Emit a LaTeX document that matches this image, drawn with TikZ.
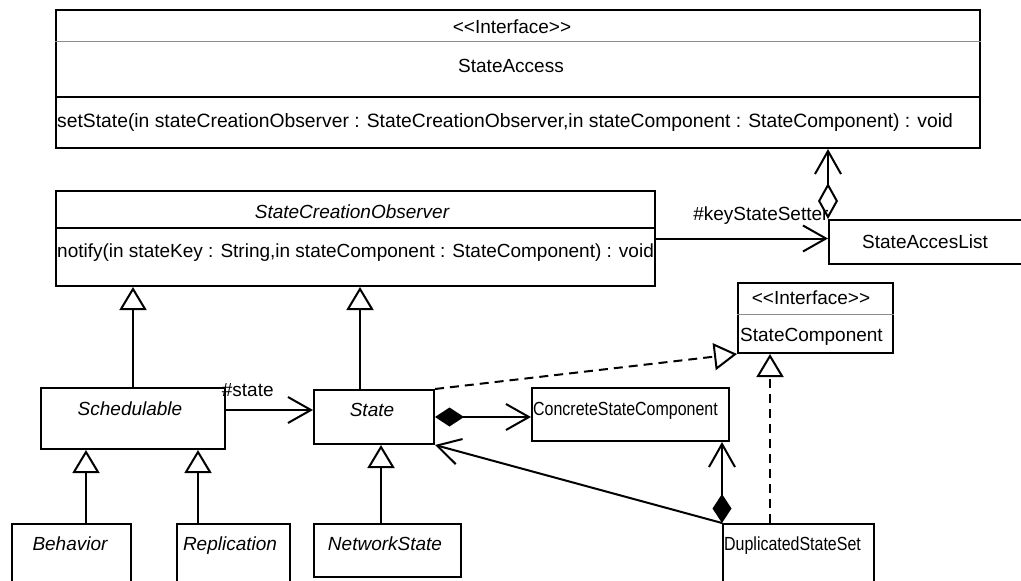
\documentclass[tikz,border=0pt]{standalone}
\usepackage{fontspec}
\setmainfont{Liberation Sans}
\usetikzlibrary{arrows.meta}
\tikzset{cls/.style={draw,line width=2pt,rectangle,anchor=north west,inner sep=0pt},
    txt/.style={inner sep=0pt,text height=14pt,text depth=4pt,font=\fontsize{19}{22}\selectfont},
    itxt/.style={txt,font=\fontsize{19}{22}\selectfont\itshape},
    thinsep/.style={draw=black!45,line width=1pt},
    boldsep/.style={draw,line width=2pt},
    gen/.style={line width=2pt,-{Triangle[open,length=23pt,width=27pt]}},
    realize/.style={gen,dash pattern=on 9pt off 6pt},
    assoc/.style={line width=2pt,-{Straight Barb[length=23pt,width=26pt]}},
    aggreg/.style={line width=2pt,{Diamond[open,length=36pt,width=20pt]}-{Straight Barb[length=23pt,width=26pt]}},
    compos/.style={line width=2pt,{Diamond[length=29pt,width=19pt]}-{Straight Barb[length=23pt,width=26pt]}}}
\newcommand{\narrow}[1]{\scalebox{0.84}[1]{#1}}
\begin{document}
\begin{tikzpicture}[x=1pt,y=-1pt]
\useasboundingbox (0,0) rectangle (1021,581);
\clip (0,0) rectangle (1021,581);
\node[cls,minimum width=924pt,minimum height=138pt] (sa) at (55,9) {};
\draw[thinsep] (sa.west |- 0,41) -- (sa.east |- 0,41);
\draw[boldsep] (sa.west |- 0,97) -- (sa.east |- 0,97);
\node[txt] (sa-st) at (512,28) {<{}<Interface>{}>};
\node[txt] (sa-name) at (511,67) {StateAccess};
\node[txt,anchor=west,font=\fontsize{19.3}{22}\selectfont] (sa-op) at (57,122) {setState(in stateCreationObserver : StateCreationObserver,in stateComponent : StateComponent) : void};
\node[cls,minimum width=599pt,minimum height=95pt] (sco) at (55,190) {};
\draw[boldsep] (sco.west |- 0,228) -- (sco.east |- 0,228);
\node[itxt] (sco-name) at (352,213) {StateCreationObserver};
\node[txt,anchor=west] (sco-op) at (57,252) {notify(in stateKey : String,in stateComponent : StateComponent) : void};
\node[cls,minimum width=250pt,minimum height=44pt] (sal) at (828,219) {};
\node[txt,anchor=west] (sal-name) at (862,243) {StateAccesList};
\node[cls,minimum width=155pt,minimum height=70pt] (sc) at (737,282) {};
\draw[thinsep] (sc.west |- 0,314) -- (sc.east |- 0,314);
\node[txt] (sc-st) at (811,299) {<{}<Interface>{}>};
\node[txt,anchor=west] (sc-name) at (740,336) {StateComponent};
\node[cls,minimum width=184pt,minimum height=61pt] (sched) at (40,387) {};
\node[itxt] (sched-name) at (130,410) {Schedulable};
\node[cls,minimum width=120pt,minimum height=54pt] (state) at (313,389) {};
\node[itxt] (state-name) at (372,411) {State};
\node[cls,minimum width=197pt,minimum height=53pt] (conc) at (531,387) {};
\node[txt,anchor=west] (conc-name) at (533,410) {\narrow{ConcreteStateComponent}};
\node[cls,minimum width=119pt,minimum height=80pt] (beh) at (11,523) {};
\node[itxt] (beh-name) at (70,545) {Behavior};
\node[cls,minimum width=113pt,minimum height=80pt] (repl) at (176,523) {};
\node[itxt] (repl-name) at (230,545) {Replication};
\node[cls,minimum width=147pt,minimum height=53pt] (netst) at (313,523) {};
\node[itxt] (netst-name) at (385,545) {NetworkState};
\node[cls,minimum width=151pt,minimum height=80pt] (dss) at (722,523) {};
\node[txt,anchor=west] (dss-name) at (724,545) {\narrow{DuplicatedStateSet}};
\draw[assoc] (sco.east) -- (sco.east -| sal.west)
    node[txt,pos=0.61,above=13pt] (kss) {\#keyStateSetter};
\draw[aggreg] (sal.north west) -- (sal.north west |- sa.south);
\draw[gen] (sched.north) -- (sched.north |- sco.south);
\draw[gen] (360,0 |- state.north) -- (360,0 |- sco.south);
\draw[gen] (86,0 |- beh.north) -- (86,0 |- sched.south);
\draw[gen] (198,0 |- repl.north) -- (198,0 |- sched.south);
\draw[gen] (381,0 |- netst.north) -- (381,0 |- state.south);
\draw[assoc] (sched.east |- 0,410) -- (state.west |- 0,410)
    node[txt,pos=0.25,above=9pt] (st-lbl) {\#state};
\draw[compos] (state.east) -- (state.east -| conc.west);
\draw[assoc] (dss.north west) -- (state.south east);
\draw[compos] (dss.north west) -- (dss.north west |- conc.south);
\draw[realize] (770,0 |- dss.north) -- (770,0 |- sc.south);
\draw[realize] (state.north east) -- (sc.south west);
\end{tikzpicture}
\end{document}
